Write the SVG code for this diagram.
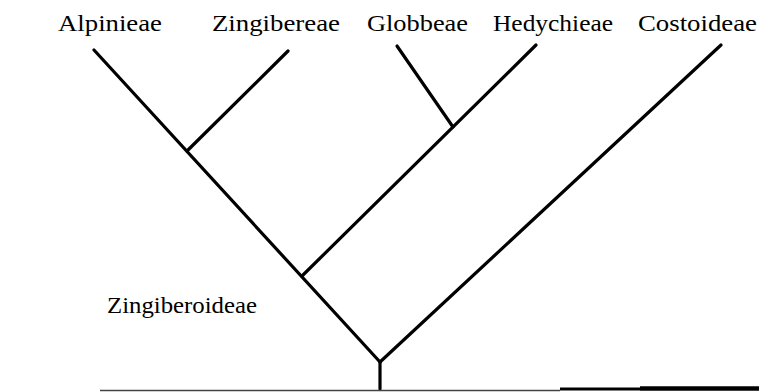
<svg xmlns="http://www.w3.org/2000/svg" width="759" height="392" viewBox="0 0 759 392">
<style>
.lbl{font-family:"Liberation Serif","Times New Roman",serif;font-size:24px;fill:#000}
.br{stroke:#000;stroke-width:3.2;stroke-linecap:round;fill:none}
</style>
<rect width="759" height="392" fill="#fff"/>
<g id="connectors">
<line class="br" x1="94" y1="50" x2="380" y2="362"/>
<line class="br" x1="288" y1="51" x2="187" y2="151"/>
<line class="br" x1="397" y1="46" x2="453" y2="127"/>
<line class="br" x1="536" y1="45" x2="303" y2="275"/>
<line class="br" x1="721" y1="45" x2="380" y2="362"/>
<line class="br" x1="380" y1="362" x2="380" y2="389"/>
<line x1="100" y1="390.5" x2="560" y2="390.5" stroke="#444" stroke-width="1.5"/>
<line x1="560" y1="389" x2="640" y2="389" stroke="#000" stroke-width="2.8"/>
<line x1="640" y1="388.5" x2="759" y2="388.5" stroke="#000" stroke-width="4.5"/>
</g>
<g id="n-alpinieae"><text class="lbl" x="58" y="31" textLength="104" lengthAdjust="spacingAndGlyphs">Alpinieae</text></g>
<g id="n-zingibereae"><text class="lbl" x="212" y="31" textLength="128" lengthAdjust="spacingAndGlyphs">Zingibereae</text></g>
<g id="n-globbeae"><text class="lbl" x="367" y="31" textLength="101" lengthAdjust="spacingAndGlyphs">Globbeae</text></g>
<g id="n-hedychieae"><text class="lbl" x="493" y="31" textLength="120" lengthAdjust="spacingAndGlyphs">Hedychieae</text></g>
<g id="n-costoideae"><text class="lbl" x="638" y="31" textLength="119" lengthAdjust="spacingAndGlyphs">Costoideae</text></g>
<g id="n-zingiberoideae"><text class="lbl" x="107" y="313" textLength="150" lengthAdjust="spacingAndGlyphs">Zingiberoideae</text></g>
</svg>
